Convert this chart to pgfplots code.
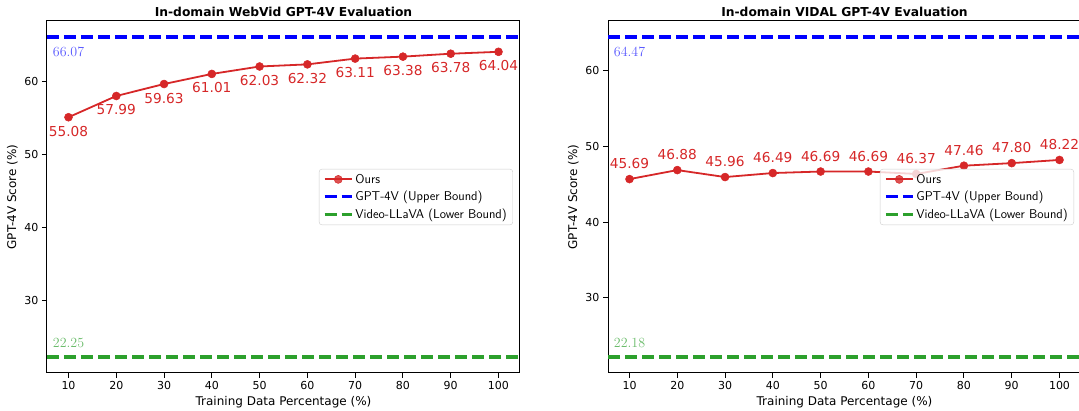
\documentclass[border=0pt]{standalone}
\usepackage{fontspec}
\usepackage{pgfplots}
\pgfplotsset{compat=1.18}
\newfontfamily\dejavu{DejaVu Sans}
\definecolor{tred}{RGB}{214,39,40}
\definecolor{tgreen}{RGB}{44,160,44}

\pgfplotsset{
  gptpanel/.style={
    scale only axis, width=473pt, height=352pt,
    xmin=5.5, xmax=104.5,
    xtick={10,20,...,100}, ytick={30,40,50,60},
    tick align=outside, xtick pos=bottom, ytick pos=left,
    major tick length=5pt,
    tick style={black, line width=1pt},
    axis line style={line width=1pt},
    clip=false,
    ticklabel style={font=\dejavu\fontsize{11}{12}\selectfont},
    /pgf/number format/assume math mode=true,
    label style={font=\dejavu\fontsize{12}{14}\selectfont},
    xlabel={Training Data Percentage (\%)},
    ylabel={GPT-4V Score (\%)},
    title style={font=\dejavu\bfseries\fontsize{12.3}{14}\selectfont, yshift=-5pt},
    legend cell align=left,
    legend style={at={(1,0.5)}, anchor=east, xshift=-7pt,
      font=\sffamily\fontsize{12.8}{14}\selectfont, row sep=2.5pt,
      inner xsep=4pt, inner ysep=3pt,
      draw=black!20, rounded corners=3pt, fill=white, fill opacity=0.8,
      text opacity=1, draw opacity=1},
    legend image code/.code={\draw[mark repeat=2,mark phase=2,##1]
      plot coordinates {(0pt,0pt) (13.5pt,0pt) (27pt,0pt)};},
  },
  ours/.style={tred, line width=1.8pt, mark=*, mark size=4pt,
    mark options={solid, fill=tred, draw=tred, line width=0.5pt}},
  bound/.style={line width=3.3pt, dash pattern=on 12pt off 5pt},
  vals/.style={nodes near coords, point meta=explicit symbolic,
    every node near coord/.append style={font=\dejavu\fontsize{13.7}{15}\selectfont,
      text=tred, anchor=center, yshift=#1}},
}

\begin{document}
\begin{tikzpicture}

% left panel: WebVid
\begin{axis}[gptpanel, at={(0pt,0pt)},
  ymin=20.06, ymax=68.26,
  title={In-domain WebVid GPT-4V Evaluation}]
\addplot[ours, vals=-14pt] coordinates {
  (10,55.08) [55.08]
  (20,57.99) [57.99]
  (30,59.63) [59.63]
  (40,61.01) [61.01]
  (50,62.03) [62.03]
  (60,62.32) [62.32]
  (70,63.11) [63.11]
  (80,63.38) [63.38]
  (90,63.78) [63.78]
  (100,64.04) [64.04]
};
\addlegendentry{Ours}
\addplot[bound, blue] coordinates {(5.5,66.07) (104.5,66.07)};
\addlegendentry{GPT-4V (Upper Bound)}
\addplot[bound, tgreen] coordinates {(5.5,22.25) (104.5,22.25)};
\addlegendentry{Video-LLaVA (Lower Bound)}
\node[anchor=north west, inner sep=0pt, xshift=5.7pt, yshift=-10pt,
  font=\rmfamily\fontsize{14}{16}\selectfont, text=blue!65!white]
  at (axis cs:5.5,66.07) {66.07};
\node[anchor=south west, inner sep=0pt, xshift=5.7pt, yshift=9pt,
  font=\rmfamily\fontsize{14}{16}\selectfont, text=tgreen!70!white]
  at (axis cs:5.5,22.25) {22.25};
\end{axis}

% right panel: VIDAL
\begin{axis}[gptpanel, at={(561pt,0pt)},
  ymin=20.07, ymax=66.58,
  title={In-domain VIDAL GPT-4V Evaluation}]
\addplot[ours, vals=15.5pt] coordinates {
  (10,45.69) [45.69]
  (20,46.88) [46.88]
  (30,45.96) [45.96]
  (40,46.49) [46.49]
  (50,46.69) [46.69]
  (60,46.69) [46.69]
  (70,46.37) [46.37]
  (80,47.46) [47.46]
  (90,47.80) [47.80]
  (100,48.22) [48.22]
};
\addlegendentry{Ours}
\addplot[bound, blue] coordinates {(5.5,64.47) (104.5,64.47)};
\addlegendentry{GPT-4V (Upper Bound)}
\addplot[bound, tgreen] coordinates {(5.5,22.18) (104.5,22.18)};
\addlegendentry{Video-LLaVA (Lower Bound)}
\node[anchor=north west, inner sep=0pt, xshift=5.7pt, yshift=-10pt,
  font=\rmfamily\fontsize{14}{16}\selectfont, text=blue!65!white]
  at (axis cs:5.5,64.47) {64.47};
\node[anchor=south west, inner sep=0pt, xshift=5.7pt, yshift=9pt,
  font=\rmfamily\fontsize{14}{16}\selectfont, text=tgreen!70!white]
  at (axis cs:5.5,22.18) {22.18};
\end{axis}

\pgfresetboundingbox
\path (-47pt,-38pt) rectangle (1032pt,373pt);
\end{tikzpicture}
\end{document}
